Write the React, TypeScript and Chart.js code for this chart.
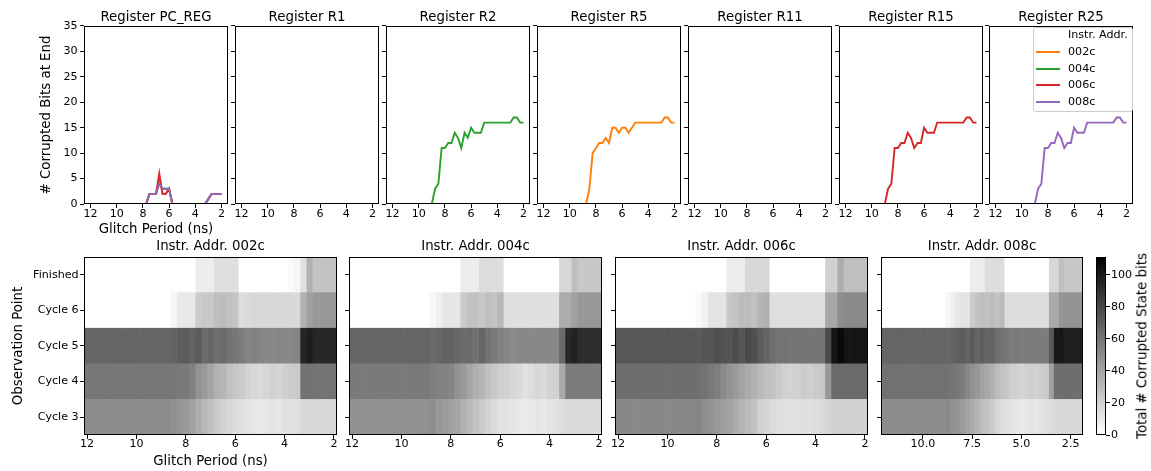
import React, { useEffect, useRef } from 'react';
import { Chart, registerables } from 'chart.js';

Chart.register(...registerables);

// ---------------- data ----------------
const GLITCH_PERIODS = [12, 11.75, 11.5, 11.25, 11, 10.75, 10.5, 10.25, 10, 9.75, 9.5, 9.25, 9, 8.75, 8.5, 8.25, 8, 7.75, 7.5, 7.25, 7, 6.75, 6.5, 6.25, 6, 5.75, 5.5, 5.25, 5, 4.75, 4.5, 4.25, 4, 3.75, 3.5, 3.25, 3, 2.75, 2.5, 2.25, 2];
const SERIES_LABELS = ['002c', '004c', '006c', '008c'];
const REGISTERS = ['PC_REG', 'R1', 'R2', 'R5', 'R11', 'R15', 'R25'];
const OBS_POINTS = ['Finished', 'Cycle 6', 'Cycle 5', 'Cycle 4', 'Cycle 3'];
const X_TICKS = [12, 10, 8, 6, 4, 2];
const X_TICKS_NARROW = [10, 7.5, 5, 2.5];
const Y_TICKS = [0, 5, 10, 15, 20, 25, 30, 35];
const CB_TICKS = [0, 20, 40, 60, 80, 100];

const ZERO = [0,0,0,0,0,0,0,0,0,0,0,0,0, 0,0,0,0,0,0,0,0,0,0,0,0,0,0,0, 0,0,0,0,0,0,0,0,0,0,0,0,0];

const PC_REG_002C = [0,0,0,0,0,0,0,0,0,0,0,0,0, 0,0,0,0,0, 2,2,2,5,2,2,3, 0,0,0,0,0,0,0,0,0,0, 0,1,2,2,2,2];
const PC_REG_004C = [0,0,0,0,0,0,0,0,0,0,0,0,0, 0,0,0,0,0, 2,2,2,4,3,3,3, 0,0,0,0,0,0,0,0,0,0, 0,1,2,2,2,2];
const PC_REG_006C = [0,0,0,0,0,0,0,0,0,0,0,0,0, 0,0,0,0,0, 2,2,2,6,2,2,3, 0,0,0,0,0,0,0,0,0,0, 0,1,2,2,2,2];
const PC_REG_008C = [0,0,0,0,0,0,0,0,0,0,0,0,0, 0,0,0,0,0, 2,2,2,4,3,3,3, 0,0,0,0,0,0,0,0,0,0, 0,1,2,2,2,2];
const R2_004C = [0,0,0,0,0,0,0,0,0,0,0,0,0, 3,4,11,11,12,12,14,13,11,14,13,15,14,14,14, 16,16,16,16,16,16,16,16,16, 17,17,16,16];
const R5_002C = [0,0,0,0,0,0,0,0,0,0,0,0,0, 0,3,10,11,12,12,13,12,15,15,14,15,15,14,15, 16,16,16,16,16,16,16,16,16, 17,17,16,16];
const R15_006C = [0,0,0,0,0,0,0,0,0,0,0,0,0, 3,4,11,11,12,12,14,13,11,12,12,15,14,14,14, 16,16,16,16,16,16,16,16,16, 17,17,16,16];
const R25_008C = [0,0,0,0,0,0,0,0,0,0,0,0,0, 3,4,11,11,12,12,14,13,11,12,12,15,14,14,14, 16,16,16,16,16,16,16,16,16, 17,17,16,16];

const REGISTER_SERIES = [
  [PC_REG_002C, PC_REG_004C, PC_REG_006C, PC_REG_008C],
  [ZERO, ZERO, ZERO, ZERO],
  [ZERO, R2_004C, ZERO, ZERO],
  [R5_002C, ZERO, ZERO, ZERO],
  [ZERO, ZERO, ZERO, ZERO],
  [ZERO, ZERO, R15_006C, ZERO],
  [ZERO, ZERO, ZERO, R25_008C],
];

// heatmap values: total corrupted state bits, per observation point, per glitch period
const H002C_FINISHED = [0,0,0,0,0,0,0,0,0,0,0,0,0, 0,0,0,0,0, 8,8,8,14,14,14,14, 0,0,0,0,0,0,0,0, 2,4,13,34, 26,26,26,26];
const H002C_CYCLE6 = [0,0,0,0,0,0,0,0,0,0,0,0,0, 0, 4,10,10,10,22,24,24,28,29,27,25,15,16, 17,17,17,17,17,17,17,16, 34,41,45,45,45,45];
const H002C_CYCLE5 = [67,67,67,67,67,67,67,67,67,67,67,67,67, 67, 68,70,71,68,72,65,67,63,65,61,59,57,54,55, 53,52,52,53,52,52,53, 95,98,94,94,94,94];
const H002C_CYCLE4 = [59,59,59,59,59,59,59,59,59,59,59,59,59, 59, 59,58,58,55,47,44,39,34,32,27,25,23,19,17,16,18,20,18,21,22,23, 61,61,61,61,61,61];
const H002C_CYCLE3 = [50,50,50,50,50,50,50,50,50,50,50,50,50, 50, 48,46,44,41,36,31,27,23,20,18,15,13,12,11,10,11,12,11,13,13,14, 17,17,17,17,17,17];

const H004C_FINISHED = [0,0,0,0,0,0,0,0,0,0,0,0,0, 0,0,0,0,0, 8,8,8,15,15,15,15, 0,0,0,0,0,0,0,0,0, 17,17,28, 24,24,24,24];
const H004C_CYCLE6 = [0,0,0,0,0,0,0,0,0,0,0,0,0, 3,7,11,11,11,23,26,27,24,28,26,31, 14,14,14,14,14,14,14,14,14, 36,36,41, 45,45,45,45];
const H004C_CYCLE5 = [67,67,67,67,67,67,67,67,67,67,67,67,67, 65,66,68,68,66,64,65,62,67,61,58,55,53,51, 52,52,52,52,52,52,52, 65,93,96, 92,92,92,92];
const H004C_CYCLE4 = [58,58,58,58,58,58,58,58,58,58,58,58,58, 56,55,54,53,47,44,39,35,32,27,24,21,20,18,16,13,15,17,16,19,20,37, 57,57,57,57,57,57];
const H004C_CYCLE3 = [48,48,48,48,48,48,48,48,48,48,48,48,48, 49,45,43,41,39,34,30,26,23,19,16,13,12,11,10,9,10,11,10,12,13,15, 16,16,16,16,16,16];

const H006C_FINISHED = [0,0,0,0,0,0,0,0,0,0,0,0,0, 0,0,0,0,0, 8,8,8,17,17,17,17, 0,0,0,0,0,0,0,0,0, 20,20,36, 28,28,28,28];
const H006C_CYCLE6 = [0,0,0,0,0,0,0,0,0,0,0,0,0, 3,6,12,12,12,24,26,29,29,27,32,34, 14,14,14,14,14,14,14,14,14, 38,38,49, 51,51,51,51];
const H006C_CYCLE5 = [73,73,73,73,73,73,73,73,73,73,73,73,73, 72,74,74,77,75,74,78,73,79,76,71,67,63,61,61, 60,60,60,60,60,60, 79,102,107, 102,102,102,102];
const H006C_CYCLE4 = [63,63,63,63,63,63,63,63,63,63,63,63,63, 62,61,58,56,51,47,44,40,37,34,30,27,26,23,20,19,20,22,21,23,24,45, 65,65,65,65,65,65];
const H006C_CYCLE3 = [52,52,52,52,52,52,52,52,52,52,52,52,52, 53,49,47,45,42,40,36,33,30,27,20,18,16,14,13,13,13,14,13,15,16,18, 20,20,20,20,20,20];

const H008C_FINISHED = [0,0,0,0,0,0,0,0,0,0,0,0,0, 0,0,0,0,0, 8,8,8,15,15,15,15, 0,0,0,0,0,0,0,0,0, 17,17,28, 24,24,24,24];
const H008C_CYCLE6 = [0,0,0,0,0,0,0,0,0,0,0,0,0, 4,7,11,12,12,22,26,28,27,29,26,30, 15,15,15,15,15,15,15,15,15, 37,37,46, 47,47,47,47];
const H008C_CYCLE5 = [67,67,67,67,67,67,67,67,67,67,67,67,67, 66,68,70,71,68,72,67,70,67,68,63,61,59,57,58, 57,57,57,57,57,57, 72,100,101, 98,98,98,98];
const H008C_CYCLE4 = [62,62,62,62,62,62,62,62,62,62,62,62,62, 61,60,59,57,52,48,45,41,38,34,29,26,24,21,20,18,20,21,20,22,23,41, 63,63,63,63,63,63];
const H008C_CYCLE3 = [50,50,50,50,50,50,50,50,50,50,50,50,50, 51,47,46,43,40,37,33,29,26,22,18,15,13,12,11,10,11,12,11,12,13,15, 17,17,17,17,17,17];

const HEATMAP_ROWS = [
  [H002C_FINISHED, H002C_CYCLE6, H002C_CYCLE5, H002C_CYCLE4, H002C_CYCLE3],
  [H004C_FINISHED, H004C_CYCLE6, H004C_CYCLE5, H004C_CYCLE4, H004C_CYCLE3],
  [H006C_FINISHED, H006C_CYCLE6, H006C_CYCLE5, H006C_CYCLE4, H006C_CYCLE3],
  [H008C_FINISHED, H008C_CYCLE6, H008C_CYCLE5, H008C_CYCLE4, H008C_CYCLE3],
];

// ---------------- styling / layout ----------------
const SERIES_COLORS = ['#ff7f0e', '#2ca02c', '#d62728', '#9467bd'];
const FONT_FAMILY = "'DejaVu Sans', sans-serif";
const TICK_FONT = { family: FONT_FAMILY, size: 11.11 };
const LABEL_FONT = { family: FONT_FAMILY, size: 13.33, weight: 'normal' as const };
const VMAX = 111;
const CELL_HALF = 0.125;
const HEAT_X_MIN = 1.875;
const HEAT_X_MAX = 12.125;
const LINE_WIDTH = 1.9;

const TOP_PLOT_LEFT = [84, 235, 386, 537, 688, 839, 989];
const TOP_PLOT_WIDTH = 144;
const HEAT_GEO = [
  { left: 84, width: 253 },
  { left: 349, width: 253 },
  { left: 615, width: 253 },
  { left: 881, width: 202 },
];

function grayFor(v: number) {
  const t = Math.max(0, Math.min(v, VMAX)) / VMAX;
  const g = Math.round(255 * (1 - t));
  return `rgb(${g},${g},${g})`;
}

const framePlugin = {
  id: 'axesFrame',
  afterDatasetsDraw(chart: any) {
    const { ctx, chartArea } = chart;
    const l = Math.round(chartArea.left);
    const t = Math.round(chartArea.top);
    const r = Math.round(chartArea.right);
    const b = Math.round(chartArea.bottom);
    ctx.save();
    ctx.strokeStyle = '#000';
    ctx.lineWidth = 1;
    ctx.strokeRect(l + 0.5, t + 0.5, r - l - 1, b - t - 1);
    ctx.restore();
  },
};

const tickGrid = {
  display: true,
  drawOnChartArea: false,
  drawTicks: true,
  tickLength: 3.9,
  tickWidth: 1,
  tickColor: '#000',
};

function RegisterPanel({ index }: { index: number }) {
  const ref = useRef<HTMLCanvasElement>(null);
  const first = index === 0;
  const yW = first ? 84 : 8;
  useEffect(() => {
    const series = REGISTER_SERIES[index];
    const chart = new Chart(ref.current as HTMLCanvasElement, {
      type: 'line',
      data: {
        datasets: SERIES_LABELS.map((label, s) => ({
          label,
          data: GLITCH_PERIODS.map((x, i) => ({ x, y: series[s][i] })),
          borderColor: SERIES_COLORS[s],
          backgroundColor: SERIES_COLORS[s],
          borderWidth: LINE_WIDTH,
          pointRadius: 0,
          tension: 0,
          order: SERIES_LABELS.length - 1 - s,
        })),
      },
      options: {
        animation: false,
        responsive: false,
        events: [],
        layout: { padding: { left: 0, right: 6, top: 9.2, bottom: 0 }, autoPadding: false },
        plugins: {
          legend: { display: false },
          tooltip: { enabled: false },
          title: {
            display: true,
            fullSize: false,
            align: 'center',
            text: `Register ${REGISTERS[index]}`,
            font: LABEL_FONT,
            color: '#000',
            padding: { top: 0, bottom: 0.8 },
          },
        },
        scales: {
          x: {
            type: 'linear',
            reverse: true,
            min: 1.5,
            max: 12.5,
            afterBuildTicks: (s: any) => { s.ticks = X_TICKS.map((value) => ({ value })); },
            afterFit: (s: any) => { s.height = 36; s.paddingLeft = 0; s.paddingRight = 0; },
            grid: tickGrid,
            border: { display: false },
            ticks: { font: TICK_FONT, color: '#000', padding: 0, maxRotation: 0, minRotation: 0, autoSkip: false, callback: (v: any) => String(v) },
            title: { display: first, text: 'Glitch Period (ns)', font: LABEL_FONT, color: '#000', padding: { top: 0, bottom: 2.1 } },
          },
          y: {
            type: 'linear',
            min: 0,
            max: 35,
            afterBuildTicks: (s: any) => { s.ticks = Y_TICKS.map((value) => ({ value })); },
            afterFit: (s: any) => { s.width = yW; s.paddingTop = 0; s.paddingBottom = 0; },
            grid: tickGrid,
            border: { display: false },
            ticks: { display: first, font: TICK_FONT, color: '#000', padding: 2.5 },
            title: { display: first, text: '# Corrupted Bits at End', font: LABEL_FONT, color: '#000', padding: { top: 38.5, bottom: 0 } },
          },
        },
      } as any,
      plugins: [framePlugin],
    });
    return () => chart.destroy();
  }, [index]);
  return (
    <canvas
      ref={ref}
      width={yW + TOP_PLOT_WIDTH + 6}
      height={240}
      style={{ position: 'absolute', left: TOP_PLOT_LEFT[index] - yW, top: 0 }}
    />
  );
}

function HeatmapPanel({ index }: { index: number }) {
  const ref = useRef<HTMLCanvasElement>(null);
  const first = index === 0;
  const narrow = index === 3;
  const yW = first ? 84 : 8;
  const geo = HEAT_GEO[index];
  useEffect(() => {
    const rows = HEATMAP_ROWS[index];
    const ticks = narrow ? X_TICKS_NARROW : X_TICKS;
    const chart = new Chart(ref.current as HTMLCanvasElement, {
      type: 'bar',
      data: {
        labels: OBS_POINTS,
        datasets: GLITCH_PERIODS.map((x, c) => ({
          label: String(x),
          data: OBS_POINTS.map(() => [x - CELL_HALF, x + CELL_HALF]),
          backgroundColor: rows.map((r) => grayFor(r[c])),
          borderWidth: 0,
          barPercentage: 1,
          categoryPercentage: 1,
          grouped: false,
        })),
      },
      options: {
        indexAxis: 'y',
        animation: false,
        responsive: false,
        events: [],
        layout: { padding: { left: 0, right: 4, top: 0, bottom: 0 }, autoPadding: false },
        plugins: {
          legend: { display: false },
          tooltip: { enabled: false },
          title: {
            display: true,
            fullSize: false,
            align: 'center',
            text: `Instr. Addr. ${SERIES_LABELS[index]}`,
            font: LABEL_FONT,
            color: '#000',
            padding: { top: 4, bottom: 2 },
          },
        },
        scales: {
          x: {
            type: 'linear',
            reverse: true,
            min: HEAT_X_MIN,
            max: HEAT_X_MAX,
            afterBuildTicks: (s: any) => { s.ticks = ticks.map((value) => ({ value })); },
            afterFit: (s: any) => { s.height = 36; s.paddingLeft = 0; s.paddingRight = 0; },
            grid: tickGrid,
            border: { display: false },
            ticks: {
              font: TICK_FONT, color: '#000', padding: -1, maxRotation: 0, minRotation: 0, autoSkip: false,
              callback: (v: any) => (narrow ? Number(v).toFixed(1) : String(v)),
            },
            title: { display: first, text: 'Glitch Period (ns)', font: LABEL_FONT, color: '#000', padding: { top: 0, bottom: 1.5 } },
          },
          y: {
            type: 'category',
            offset: true,
            afterFit: (s: any) => { s.width = yW; s.paddingTop = 0; s.paddingBottom = 0; },
            grid: { ...tickGrid, offset: false },
            border: { display: false },
            ticks: { display: first, font: TICK_FONT, color: '#000', padding: 1.5 },
            title: { display: first, text: 'Observation Point', font: LABEL_FONT, color: '#000', padding: { top: 10.5, bottom: 0 } },
          },
        },
      } as any,
      plugins: [framePlugin],
    });
    return () => chart.destroy();
  }, [index]);
  return (
    <canvas
      ref={ref}
      width={yW + geo.width + 4}
      height={236}
      style={{ position: 'absolute', left: geo.left - yW, top: 235 }}
    />
  );
}

function ColorBar() {
  const ref = useRef<HTMLCanvasElement>(null);
  useEffect(() => {
    const chart = new Chart(ref.current as HTMLCanvasElement, {
      type: 'bar',
      data: {
        labels: ['scale'],
        datasets: [{
          label: 'colormap',
          data: [[0, VMAX]],
          backgroundColor: (c: any) => {
            const area = c.chart.chartArea;
            if (!area) return '#888';
            const g = c.chart.ctx.createLinearGradient(0, area.bottom, 0, area.top);
            g.addColorStop(0, grayFor(0));
            g.addColorStop(1, grayFor(VMAX));
            return g;
          },
          borderWidth: 0,
          barPercentage: 1,
          categoryPercentage: 1,
        }],
      },
      options: {
        animation: false,
        responsive: false,
        events: [],
        layout: { padding: { left: 6, right: 0, top: 22, bottom: 36 }, autoPadding: false },
        plugins: { legend: { display: false }, tooltip: { enabled: false } },
        scales: {
          x: { type: 'category', display: false },
          y: {
            type: 'linear',
            position: 'right',
            min: 0,
            max: VMAX,
            afterBuildTicks: (s: any) => { s.ticks = CB_TICKS.map((value) => ({ value })); },
            afterFit: (s: any) => { s.width = 45; s.paddingTop = 0; s.paddingBottom = 0; },
            grid: tickGrid,
            border: { display: false },
            ticks: { font: TICK_FONT, color: '#000', padding: 1 },
          },
        },
      } as any,
      plugins: [framePlugin],
    });
    return () => chart.destroy();
  }, []);
  return <canvas ref={ref} width={61} height={236} style={{ position: 'absolute', left: 1090, top: 235 }} />;
}

function Legend() {
  const rows = [{ text: 'Instr. Addr.', color: '' }].concat(
    SERIES_LABELS.map((t, i) => ({ text: t, color: SERIES_COLORS[i] }))
  );
  return (
    <div
      style={{
        position: 'absolute', left: 1033, top: 27, width: 100, height: 85, boxSizing: 'border-box',
        border: '1px solid #cccccc', borderRadius: 3, background: 'rgba(255,255,255,0.8)',
        fontFamily: FONT_FAMILY, fontSize: 11.11, color: '#000',
      }}
    >
      {rows.map((r, k) => {
        const cy = Math.round(35.3 + 16.6 * k - 28);
        return (
          <React.Fragment key={k}>
            {r.color ? (
              <div style={{ position: 'absolute', left: 2, top: cy - 1, width: 24, height: 2, background: r.color }} />
            ) : null}
            <div style={{ position: 'absolute', left: 34, top: cy - 6, height: 12, lineHeight: '12px', whiteSpace: 'nowrap' }}>{r.text}</div>
          </React.Fragment>
        );
      })}
    </div>
  );
}

export default function App() {
  return (
    <div style={{ position: 'absolute', left: 0, top: 0, width: 1151, height: 471, background: '#fff', overflow: 'hidden' }}>
      {REGISTERS.map((_, i) => <RegisterPanel key={i} index={i} />)}
      <Legend />
      {SERIES_LABELS.map((_, i) => <HeatmapPanel key={i} index={i} />)}
      <ColorBar />
      <div
        style={{
          position: 'absolute', left: 1141.5, top: 346, transform: 'translate(-50%, -50%) rotate(-90deg)',
          fontFamily: FONT_FAMILY, fontSize: 13.33, lineHeight: 1, whiteSpace: 'nowrap', color: '#000',
        }}
      >
        Total # Corrupted State bits
      </div>
    </div>
  );
}
